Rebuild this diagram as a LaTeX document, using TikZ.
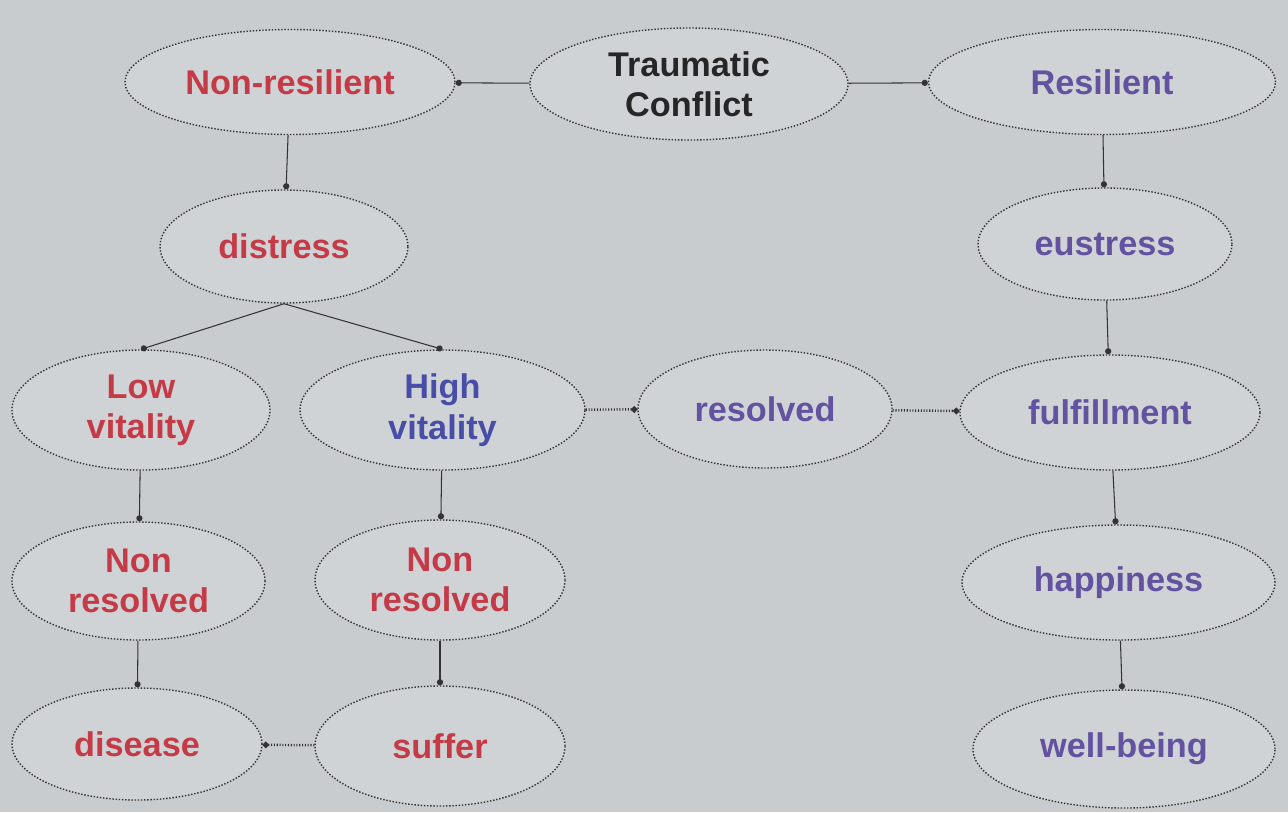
\documentclass[tikz,border=0pt]{standalone}
\usepackage{fontspec}
\setmainfont{Liberation Sans}
\usetikzlibrary{shapes.geometric,arrows.meta}
\definecolor{paper}{RGB}{201,204,206}
\definecolor{bubble}{RGB}{208,211,213}
\definecolor{neg}{RGB}{196,58,70}
\definecolor{pos}{RGB}{98,82,160}
\definecolor{high}{RGB}{72,78,168}
\begin{document}
\begin{tikzpicture}[
        state/.style={ellipse, draw=black!80, densely dotted, thick,
          fill=bubble, inner sep=0pt, align=center,
          font=\bfseries\fontsize{19.5}{23}\selectfont},
        link/.style={-{Circle[length=3.5pt]}, black!80, semithick},
        dotlink/.style={link, densely dotted, line width=1.4pt}
      ]

      \fill[paper] (0,0) rectangle (25.76,-16.24);
      \useasboundingbox (0,0) rectangle (25.76,-16.24);

      \node[state, minimum width=6.36cm, minimum height=2.24cm, text=black!85] (trauma) at (13.78,-1.68)  {Traumatic\\Conflict};
      \node[state, minimum width=6.6cm,  minimum height=2.1cm,  text=neg]   (nonres)   at ( 5.80,-1.64)  {Non-resilient};
      \node[state, minimum width=6.94cm, minimum height=2.1cm,  text=pos]   (resil)    at (22.04,-1.64)  {Resilient};

      \node[state, minimum width=4.96cm, minimum height=2.26cm, text=neg]   (distress) at ( 5.68,-4.93)  {distress};
      \node[state, minimum width=5.08cm, minimum height=2.24cm, text=pos]   (eustress) at (22.10,-4.88)  {eustress};

      \node[state, minimum width=5.16cm, minimum height=2.4cm,  text=neg]   (lowvit)   at ( 2.82,-8.20)  {Low\\vitality};
      \node[state, minimum width=5.7cm,  minimum height=2.4cm,  text=high]  (highvit)  at ( 8.85,-8.20)  {High\\vitality};
      \node[state, minimum width=5.08cm, minimum height=2.36cm, text=pos]   (resolved) at (15.30,-8.18)  {resolved};
      \node[state, minimum width=6.0cm,  minimum height=2.3cm,  text=pos]   (fulfil)   at (22.20,-8.25)  {fulfillment};

      \node[state, minimum width=5.06cm, minimum height=2.36cm, text=neg]   (nonresA)  at ( 2.77,-11.62) {Non\\resolved};
      \node[state, minimum width=5.0cm,  minimum height=2.4cm,  text=neg]   (nonresB)  at ( 8.80,-11.60) {Non\\resolved};
      \node[state, minimum width=6.26cm, minimum height=2.3cm,  text=pos]   (happy)    at (22.37,-11.65) {happiness};

      \node[state, minimum width=5.0cm,  minimum height=2.24cm, text=neg]   (disease)  at ( 2.74,-14.88) {disease};
      \node[state, minimum width=5.0cm,  minimum height=2.4cm,  text=neg]   (suffer)   at ( 8.80,-14.92) {suffer};
      \node[state, minimum width=6.04cm, minimum height=2.36cm, text=pos]   (wellbeing) at (22.48,-14.98) {well-being};

      % top row
      \draw[link] (trauma) -- (nonres);
      \draw[link] (trauma) -- (resil);

      % left branch
      \draw[link] (nonres) -- (distress);
      \coordinate (fork) at (distress.south);
      \draw[link] (fork) -- (lowvit.north);
      \draw[link] (fork) -- (highvit.north);
      \draw[link] (lowvit) -- (nonresA);
      \draw[link] (nonresA) -- (disease);
      \draw[link] (highvit) -- (nonresB);
      \draw[link] (nonresB) -- (suffer);
      \draw[dotlink] (suffer) -- (disease);

      % crossing over
      \draw[dotlink] (highvit) -- (resolved);
      \draw[dotlink] (resolved) -- (fulfil);

      % right branch
      \draw[link] (resil) -- (eustress);
      \draw[link] (eustress) -- (fulfil);
      \draw[link] (fulfil) -- (happy);
      \draw[link] (happy) -- (wellbeing);

    \end{tikzpicture}
\end{document}
